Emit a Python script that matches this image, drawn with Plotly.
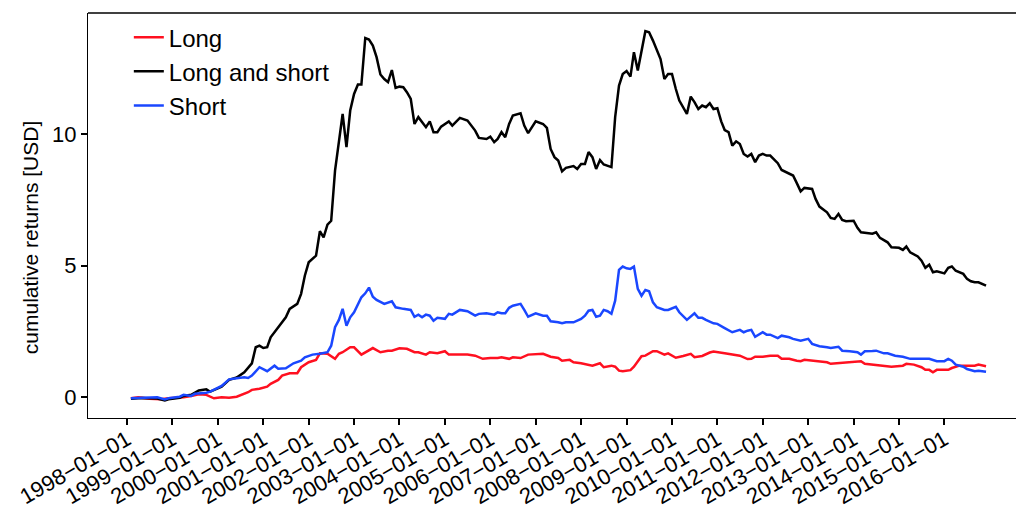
import plotly.graph_objects as go

# ---------------- data ----------------
long_dates = ["1998-02","1998-04","1998-07","1998-10","1998-12","1999-04","1999-06","1999-08","1999-10","1999-12",
 "2000-02","2000-04","2000-06","2000-08","2000-09","2000-10","2000-12","2001-02","2001-03","2001-05",
 "2001-06","2001-08","2001-10","2001-11","2002-01","2002-03","2002-04","2002-06","2002-08","2002-09",
 "2002-10","2002-12","2003-01","2003-03","2003-04","2003-06","2003-08","2003-10","2003-11","2003-12",
 "2004-01","2004-03","2004-05","2004-06","2004-08","2004-09","2004-11","2005-01","2005-02","2005-04",
 "2005-07","2005-09","2005-11","2006-01","2006-03","2006-04","2006-06","2006-07","2006-09","2006-11",
 "2007-03","2007-05","2007-07","2007-08","2007-10","2007-11","2008-01","2008-04","2008-06","2008-07",
 "2008-09","2008-10","2008-11","2008-12","2009-02","2009-03","2009-05","2009-06","2009-08","2009-09",
 "2009-11","2009-12","2010-02","2010-04","2010-06","2010-07","2010-09","2010-11","2010-12","2011-03",
 "2011-04","2011-07","2011-09","2011-10","2011-11","2012-01","2012-03","2012-05","2012-06","2012-08",
 "2012-10","2012-11","2012-12","2013-02","2013-04","2013-06","2013-07","2013-09","2013-11","2014-01",
 "2014-03","2014-04","2014-06","2014-07","2014-09","2014-11","2015-02","2015-03","2015-05","2015-07",
 "2015-08","2015-09","2015-10","2015-11","2016-01","2016-02","2016-03","2016-05","2016-07","2016-09",
 "2016-10","2016-12"]
long_values = [-0.04,0.00,-0.06,-0.08,-0.04,0.00,0.05,0.11,0.09,-0.04,
 0.00,-0.02,0.02,0.13,0.19,0.28,0.32,0.40,0.51,0.66,
 0.82,0.91,0.91,1.14,1.33,1.42,1.67,1.65,1.46,1.65,
 1.71,1.90,1.90,1.62,1.71,1.87,1.71,1.77,1.77,1.80,
 1.86,1.84,1.71,1.71,1.62,1.71,1.67,1.75,1.62,1.62,
 1.62,1.58,1.46,1.49,1.49,1.52,1.46,1.52,1.49,1.62,
 1.65,1.54,1.49,1.39,1.42,1.33,1.29,1.20,1.29,1.14,
 1.20,1.16,1.01,0.99,1.03,1.16,1.56,1.58,1.75,1.75,
 1.62,1.67,1.50,1.57,1.65,1.52,1.57,1.70,1.74,1.67,
 1.65,1.58,1.45,1.46,1.54,1.54,1.58,1.58,1.46,1.46,
 1.39,1.37,1.42,1.39,1.37,1.33,1.27,1.30,1.33,1.37,
 1.37,1.27,1.24,1.24,1.20,1.16,1.20,1.27,1.24,1.14,
 1.04,1.04,0.95,1.04,1.04,1.04,1.11,1.20,1.20,1.20,
 1.24,1.18]

ls_dates = ["1998-02","1998-05","1998-09","1998-11","1998-12","1999-03","1999-04","1999-06","1999-08","1999-10",
 "1999-11","2000-02","2000-04","2000-06","2000-08","2000-09","2000-10","2000-11","2000-12","2001-01",
 "2001-02","2001-03","2001-05","2001-07","2001-08","2001-10","2001-11","2001-12","2002-01","2002-03",
 "2002-04","2002-05","2002-06","2002-07","2002-08","2002-09","2002-10","2002-11","2002-12","2003-01",
 "2003-02","2003-03","2003-04","2003-05","2003-06","2003-07","2003-08","2003-09","2003-10","2003-11",
 "2003-12","2004-01","2004-02","2004-03","2004-04","2004-05","2004-06","2004-08","2004-09","2004-10",
 "2004-11","2004-12","2005-02","2005-03","2005-05","2005-07","2005-09","2005-10","2005-12","2006-01",
 "2006-02","2006-03","2006-04","2006-05","2006-06","2006-07","2006-09","2006-10","2006-11","2007-01",
 "2007-03","2007-04","2007-05","2007-06","2007-07","2007-08","2007-09","2007-11","2007-12","2008-01",
 "2008-02","2008-03","2008-04","2008-05","2008-06","2008-07","2008-09","2008-10","2008-11","2008-12",
 "2009-01","2009-02","2009-03","2009-04","2009-05","2009-06","2009-07","2009-08","2009-10","2009-11",
 "2009-12","2010-01","2010-02","2010-03","2010-05","2010-06","2010-07","2010-08","2010-09","2010-10",
 "2010-11","2010-12","2011-01","2011-02","2011-03","2011-04","2011-05","2011-06","2011-07","2011-08",
 "2011-09","2011-10","2011-11","2011-12","2012-01","2012-02","2012-03","2012-05","2012-06","2012-08",
 "2012-09","2012-10","2012-11","2012-12","2013-02","2013-03","2013-04","2013-06","2013-07","2013-08",
 "2013-09","2013-10","2013-11","2014-01","2014-02","2014-03","2014-05","2014-06","2014-07","2014-08",
 "2014-10","2014-11","2015-01","2015-02","2015-03","2015-04","2015-06","2015-07","2015-08","2015-09",
 "2015-10","2015-11","2016-01","2016-02","2016-03","2016-04","2016-06","2016-07","2016-08","2016-09",
 "2016-10","2016-12"]
ls_values = [-0.06,-0.03,-0.05,-0.12,-0.08,-0.02,0.05,0.09,0.26,0.30,
 0.21,0.40,0.66,0.75,0.95,1.14,1.29,1.90,1.96,1.87,
 1.90,2.28,2.66,3.04,3.36,3.55,3.93,4.62,5.13,5.38,
 6.31,6.08,6.56,6.71,8.62,9.76,10.77,9.51,10.90,11.53,
 11.89,11.89,13.66,13.60,13.37,12.93,12.27,12.10,11.98,12.44,
 11.76,11.81,11.79,11.60,11.34,10.39,10.65,10.27,10.49,10.08,
 10.08,10.29,10.49,10.33,10.62,10.52,10.14,9.86,9.82,9.91,
 9.70,9.82,10.08,9.89,10.39,10.71,10.80,10.33,10.04,10.49,
 10.39,10.24,9.44,9.13,9.00,8.59,8.72,8.79,8.68,8.87,
 8.87,9.32,9.13,8.68,9.02,8.85,8.75,10.65,11.85,12.29,
 12.40,12.19,13.12,12.42,13.24,13.92,13.88,13.56,12.86,12.10,
 12.29,12.29,11.72,11.28,10.77,11.43,11.22,10.96,11.09,11.03,
 11.18,10.96,10.99,10.49,10.16,10.08,9.57,9.73,9.63,9.25,
 9.15,9.25,8.94,9.19,9.25,9.19,9.19,8.90,8.64,8.49,
 8.43,8.14,7.83,7.96,7.92,7.54,7.25,7.03,6.82,6.78,
 6.97,6.74,6.69,6.71,6.44,6.27,6.24,6.22,6.27,6.06,
 5.89,5.70,5.68,5.60,5.73,5.51,5.35,5.19,4.92,5.04,
 4.75,4.79,4.71,4.92,4.97,4.81,4.69,4.50,4.41,4.37,
 4.37,4.24]

short_dates = ["1998-02","1998-05","1998-09","1998-11","1998-12","1999-03","1999-04","1999-06","1999-07","1999-10",
 "1999-11","2000-02","2000-04","2000-06","2000-08","2000-09","2000-10","2000-12","2001-02","2001-04",
 "2001-05","2001-07","2001-09","2001-11","2001-12","2002-02","2002-04","2002-06","2002-07","2002-08",
 "2002-09","2002-10","2002-11","2002-12","2003-01","2003-03","2003-04","2003-05","2003-06","2003-07",
 "2003-09","2003-11","2003-12","2004-02","2004-04","2004-05","2004-06","2004-07","2004-08","2004-09",
 "2004-10","2004-11","2005-01","2005-02","2005-03","2005-05","2005-07","2005-09","2005-10","2005-12",
 "2006-02","2006-03","2006-04","2006-05","2006-06","2006-07","2006-09","2006-10","2006-11","2007-01",
 "2007-03","2007-04","2007-05","2007-07","2007-08","2007-09","2007-11","2008-01","2008-02","2008-03",
 "2008-04","2008-05","2008-06","2008-07","2008-08","2008-09","2008-10","2008-11","2008-12","2009-01",
 "2009-02","2009-03","2009-04","2009-05","2009-06","2009-07","2009-08","2009-09","2009-11","2009-12",
 "2010-02","2010-03","2010-05","2010-07","2010-08","2010-09","2010-10","2010-12","2011-01","2011-03",
 "2011-05","2011-07","2011-08","2011-09","2011-10","2011-11","2012-01","2012-02","2012-03","2012-05",
 "2012-06","2012-08","2012-09","2012-11","2013-01","2013-02","2013-04","2013-06","2013-07","2013-09",
 "2013-10","2013-12","2014-02","2014-03","2014-04","2014-06","2014-07","2014-09","2014-10","2014-12",
 "2015-02","2015-04","2015-06","2015-08","2015-09","2015-11","2016-01","2016-02","2016-03","2016-04",
 "2016-06","2016-07","2016-09","2016-10","2016-12"]
short_values = [-0.04,-0.02,0.00,-0.08,-0.04,0.02,0.09,0.05,0.13,0.17,
 0.21,0.43,0.68,0.72,0.76,0.73,0.82,1.14,0.99,1.20,
 1.08,1.10,1.29,1.39,1.52,1.62,1.65,1.71,1.96,2.66,
 2.94,3.36,2.72,3.04,3.23,3.80,3.95,4.17,3.82,3.70,
 3.55,3.65,3.42,3.36,3.32,3.06,3.14,3.04,3.14,3.10,
 2.91,3.02,2.98,3.17,3.14,3.32,3.27,3.10,3.17,3.19,
 3.14,3.23,3.19,3.19,3.40,3.48,3.55,3.32,3.06,3.19,
 3.10,3.10,2.89,2.85,2.81,2.85,2.85,2.98,3.10,3.29,
 3.32,3.06,3.10,3.32,3.27,3.17,3.67,4.84,4.97,4.90,
 4.88,4.97,4.12,3.86,4.08,4.03,3.61,3.42,3.32,3.32,
 3.44,3.23,2.94,3.19,3.02,3.02,2.94,2.81,2.79,2.63,
 2.47,2.56,2.47,2.53,2.56,2.30,2.47,2.38,2.38,2.25,
 2.34,2.28,2.22,2.15,2.22,2.03,1.94,1.90,1.87,1.92,
 1.77,1.75,1.71,1.62,1.75,1.76,1.77,1.67,1.67,1.58,
 1.54,1.46,1.46,1.46,1.46,1.37,1.37,1.46,1.39,1.24,
 1.16,1.07,0.99,1.01,0.97]

series_names = ["Long", "Long and short", "Short"]
series_colors = ["#ff1020", "#000000", "#1a47ff"]

tick_dates = [f"{y}-01-01" for y in range(1998, 2017)]
tick_labels = [d.replace("-", "\u2212") for d in tick_dates]
y_ticks = [0, 5, 10]
y_title = "cumulative returns [USD]"

# ---------------- figure ----------------
FONT = "Liberation Sans, Arial, sans-serif"
fig = go.Figure()
for name, xs, ys, col in zip(series_names,
                             [long_dates, ls_dates, short_dates],
                             [long_values, ls_values, short_values],
                             series_colors):
    fig.add_trace(go.Scatter(x=xs, y=ys, mode="lines", name=name,
                             legendgroup=name,
                             line=dict(color=col, width=2.5)))

fig.update_layout(
    width=1016, height=505,
    margin=dict(l=88, r=0, t=13, b=87),
    paper_bgcolor="white", plot_bgcolor="white",
    font=dict(family=FONT, color="black", size=22),
    showlegend=True,
    legend=dict(x=0.044, y=0.995, xanchor="left", yanchor="top",
                font=dict(size=24, family=FONT), bgcolor="rgba(0,0,0,0)",
                tracegroupgap=2, traceorder="normal"),
)
fig.update_xaxes(
    type="date", range=["1997-02-21", "2017-07-30"],
    tickmode="array", tickvals=tick_dates, ticktext=tick_labels,
    tickangle=-30, tickfont=dict(size=22, family=FONT),
    ticklabelstandoff=-7,
    showgrid=False, zeroline=False, automargin=False,
    showline=True, linecolor="black", linewidth=1.3, mirror=False,
    ticks="outside", ticklen=6, tickwidth=1.5, tickcolor="black",
)
fig.update_yaxes(
    range=[-0.79, 14.61],
    tickmode="array", tickvals=y_ticks, ticktext=[str(v) for v in y_ticks],
    tickfont=dict(size=22, family=FONT),
    showgrid=False, zeroline=False, automargin=False,
    showline=True, linecolor="black", linewidth=1.3, mirror=False,
    ticks="outside", ticklen=6, tickwidth=1.5, tickcolor="black",
)
# y-axis title as rotated text
fig.add_annotation(text=y_title, xref="paper", yref="paper",
                   x=-0.0625, y=0.444, xanchor="center", yanchor="middle",
                   textangle=-90, showarrow=False,
                   font=dict(size=21, family=FONT, color="black"))
# top spine
fig.add_shape(type="line", xref="paper", yref="paper", x0=0, x1=1, y0=1, y1=1,
              line=dict(color="black", width=1.3))

fig.write_html("out.html", config={"displayModeBar": False},
               post_script="document.body.style.margin='0';")
